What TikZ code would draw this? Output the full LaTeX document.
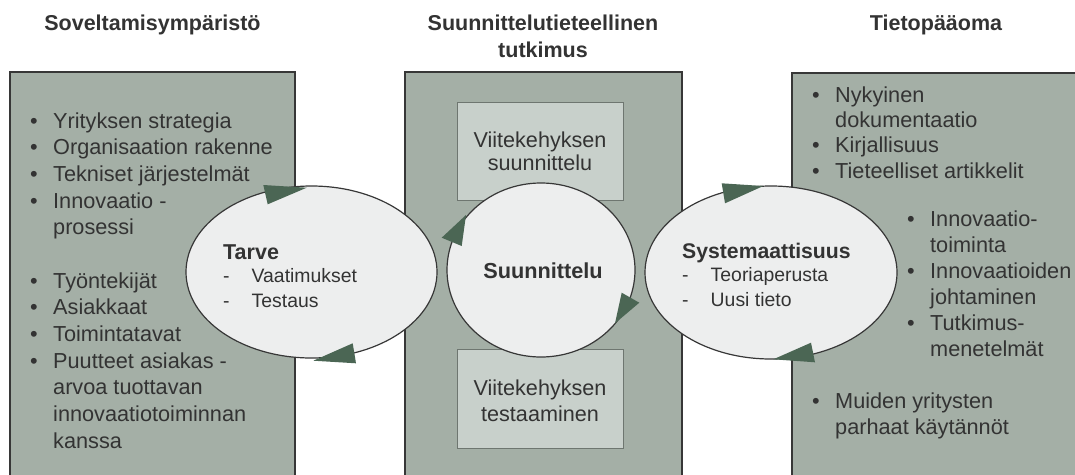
\documentclass[tikz,border=0pt]{standalone}
\usepackage{fontspec}
\setmainfont{Liberation Sans}
\usetikzlibrary{shapes.geometric}

\definecolor{panelfill}{RGB}{164,175,166}
\definecolor{boxfill}{RGB}{200,208,203}
\definecolor{boxline}{RGB}{110,118,112}
\definecolor{ovalfill}{RGB}{237,238,238}
\definecolor{edgeline}{RGB}{55,55,55}
\definecolor{tipgreen}{RGB}{75,102,84}
\definecolor{ink}{RGB}{51,51,51}

% font helpers: size / baseline skip
\newcommand{\fsz}[2]{\fontsize{#1}{#2}\selectfont}
\newcommand{\bul}{\makebox[23pt][l]{\textbullet}}
\newcommand{\ind}{\hspace*{23pt}}
\newcommand{\dsh}{\makebox[28.5pt][l]{-}}

% multi-line nodes are placed by the baseline of their last line
\tikzset{
  panel/.style={draw=edgeline, line width=1.3pt, fill=panelfill},
  innerbox/.style={draw=boxline, line width=1pt, fill=boxfill},
  oval/.style={ellipse, draw=edgeline, line width=1.2pt, fill=ovalfill, inner sep=0pt},
  title/.style={font=\fsz{21.5}{27.5}\bfseries, text=ink, align=center, inner sep=0pt, anchor=base},
  listtext/.style={text=ink, align=left, inner sep=0pt, anchor=base west},
  boxtext/.style={font=\fsz{21.6}{23.4}, text=ink, align=center, inner sep=0pt, anchor=base},
  tip/.style={fill=tipgreen, draw=none},
}

\begin{document}
\begin{tikzpicture}[x=1pt, y=-1pt]
\useasboundingbox (0,0) rectangle (1075,474);
\clip (0,0) rectangle (1075,474);

% column titles
\node[title] (t1) at (152.5,30) {Soveltamisympäristö};
\node[title] (t2) at (543,57.5) {Suunnittelutieteellinen\\tutkimus};
\node[title] (t3) at (936,30) {Tietopääoma};

% three panels
\path[panel] (10,72) rectangle (295,490);
\path[panel] (405,72) rectangle (682,490);
\path[panel] (792,73) rectangle (1085,490);

% boxes inside the middle panel
\path[innerbox] (457,102) rectangle (623,200);
\path[innerbox] (457,349) rectangle (623,448);
\node[boxtext] (b1) at (540,170.7) {Viitekehyksen\\suunnittelu};
\node[boxtext, font=\fsz{21.6}{26}] (b2) at (540,421) {Viitekehyksen\\testaaminen};

% left list
\node[listtext, font=\fsz{21.7}{26.67}] (l1) at (30,448.3) {%
\bul Yrityksen strategia\\
\bul Organisaation rakenne\\
\bul Tekniset järjestelmät\\
\bul Innovaatio -\\
\ind prosessi\\
\mbox{}\\
\bul Työntekijät\\
\bul Asiakkaat\\
\bul Toimintatavat\\
\bul Puutteet asiakas -\\
\ind arvoa tuottavan\\
\ind innovaatiotoiminnan\\
\ind kanssa};

% right lists
\node[listtext, font=\fsz{21.7}{25.3}] (r1) at (812,178.2) {%
\bul Nykyinen\\
\ind dokumentaatio\\
\bul Kirjallisuus\\
\bul Tieteelliset artikkelit};
\node[listtext, font=\fsz{21.7}{25.9}] (r2) at (907,356.2) {%
\bul Innovaatio-\\
\ind toiminta\\
\bul Innovaatioiden\\
\ind johtaminen\\
\bul Tutkimus-\\
\ind menetelmät};
\node[listtext, font=\fsz{21.7}{25.7}] (r3) at (812,434) {%
\bul Muiden yritysten\\
\ind parhaat käytännöt};

% cycle ovals
\node[oval, minimum width=251pt, minimum height=172pt] (e1) at (311.5,272) {};
\node[oval, minimum width=188pt, minimum height=174pt] (e2) at (541,270) {};
\node[oval, minimum width=252pt, minimum height=173pt] (e3) at (771,272.5) {};

% oval texts
\node[listtext, font=\fsz{21.5}{24}\bfseries] (e1h) at (223,259.3) {Tarve};
\node[listtext, font=\fsz{19.4}{24.3}] (e1l) at (223,307) {\dsh Vaatimukset\\\dsh Testaus};
\node[text=ink, inner sep=0pt, anchor=base, font=\fsz{21.7}{24}\bfseries] (e2h) at (543,278.3) {Suunnittelu};
\node[listtext, font=\fsz{21.2}{24}\bfseries] (e3h) at (682,258.3) {Systemaattisuus};
\node[listtext, font=\fsz{19.4}{25}] (e3l) at (682,306.7) {\dsh Teoriaperusta\\\dsh Uusi tieto};

% arrow heads on the ovals (clockwise cycles)
\path[tip] (263.3,185) -- (306.7,187.7) -- (267.7,204.3) -- cycle;
\path[tip] (313.3,360.7) -- (352.7,343.3) -- (356,363.3) -- cycle;
\path[tip] (466,215) -- (441.7,237.7) -- (461.7,246) -- cycle;
\path[tip] (621.7,292.7) -- (639.3,302.7) -- (615,323.3) -- cycle;
\path[tip] (721.7,183.3) -- (763.3,186) -- (725,203.3) -- cycle;
\path[tip] (773.3,359.3) -- (811,342.7) -- (815,362.3) -- cycle;
\end{tikzpicture}
\end{document}
